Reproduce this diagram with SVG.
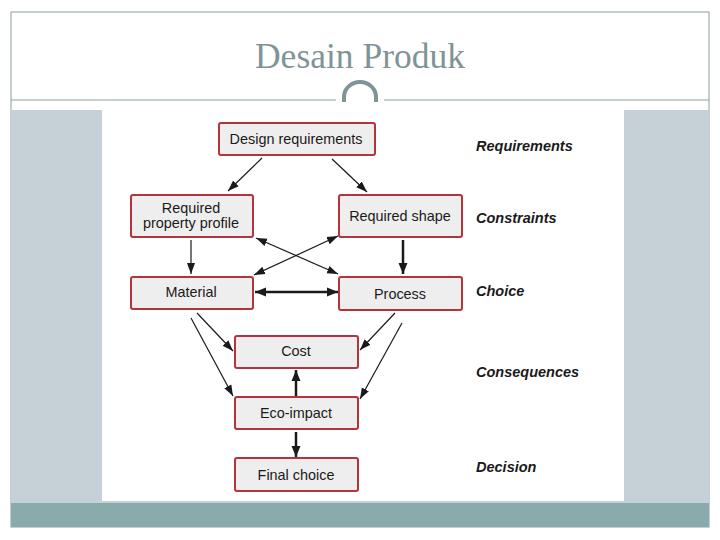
<svg xmlns="http://www.w3.org/2000/svg" width="720" height="540" viewBox="0 0 720 540">
<style>
.node rect{fill:#efeeee;stroke:#b2353b;stroke-width:2}
.node text{font-family:"Liberation Sans",Arial,sans-serif;font-size:14.4px;fill:#1a1a1a;text-anchor:middle}
.side{font-family:"Liberation Sans",Arial,sans-serif;font-size:14.5px;font-style:italic;font-weight:bold;fill:#1a1a1a}
.c{stroke:#1a1a1a;stroke-width:1.2;fill:none}
.t{stroke:#1a1a1a;stroke-width:2.5;fill:none}
</style>
<defs>
<marker id="ah" markerUnits="userSpaceOnUse" markerWidth="12" markerHeight="10" refX="11" refY="5" orient="auto-start-reverse">
<path d="M0,1 L11,5 L0,9 Z" fill="#1a1a1a"/>
</marker>
<marker id="ahb" markerUnits="userSpaceOnUse" markerWidth="12" markerHeight="10" refX="11" refY="5" orient="auto-start-reverse">
<path d="M0,0.5 L11,5 L0,9.5 Z" fill="#1a1a1a"/>
</marker>
</defs>
<rect x="0" y="0" width="720" height="540" fill="#fff"/>
<g id="frame">
<rect x="11" y="12" width="698" height="515" fill="none" stroke="#8a9ea0" stroke-width="1"/>
<rect x="11" y="110" width="698" height="393" fill="#c5d1d6"/>
<rect x="102" y="110" width="522" height="391" fill="#fff"/>
<rect x="11" y="503" width="698" height="24" fill="#8aabab"/>
<line x1="11" y1="100" x2="336" y2="100" stroke="#8a9ea0" stroke-width="1"/>
<line x1="384" y1="100" x2="709" y2="100" stroke="#8a9ea0" stroke-width="1"/>
<path d="M344,102 L344,97 A16,15 0 0 1 376,97 L376,102" fill="none" stroke="#7f9496" stroke-width="4"/>
<text x="360" y="68" font-family="Liberation Serif,'Times New Roman',serif" font-size="35.5" fill="#7f9496" text-anchor="middle">Desain Produk</text>
</g>
<g id="connectors">
<line class="c" x1="262" y1="158" x2="228" y2="191" marker-end="url(#ah)"/>
<line class="c" x1="332" y1="159" x2="367" y2="192" marker-end="url(#ah)"/>
<line class="c" x1="191" y1="240" x2="191" y2="274" stroke-width="1.6" marker-end="url(#ah)"/>
<line class="t" x1="403" y1="240" x2="403" y2="274" marker-end="url(#ahb)"/>
<line class="c" x1="256" y1="238" x2="338" y2="274" marker-start="url(#ah)" marker-end="url(#ah)"/>
<line class="c" x1="338" y1="236" x2="254" y2="275" marker-start="url(#ah)" marker-end="url(#ah)"/>
<line class="t" x1="255" y1="292" x2="338" y2="292" marker-start="url(#ahb)" marker-end="url(#ahb)"/>
<line class="c" x1="197" y1="313" x2="233" y2="351" marker-end="url(#ah)"/>
<line class="c" x1="191" y1="318" x2="233" y2="396" marker-end="url(#ah)"/>
<line class="c" x1="395" y1="313" x2="360" y2="350" marker-end="url(#ah)"/>
<line class="c" x1="402" y1="323" x2="360" y2="399" marker-end="url(#ah)"/>
<line class="t" x1="296" y1="396" x2="296" y2="370" marker-end="url(#ahb)"/>
<line class="t" x1="296" y1="432" x2="296" y2="457" marker-end="url(#ahb)"/>
</g>
<g id="n-design" class="node"><rect x="219" y="123" width="156" height="32" rx="2"/><text x="296" y="144">Design requirements</text></g>
<g id="n-profile" class="node"><rect x="131" y="195" width="122" height="42" rx="2"/><text x="191" y="213">Required</text><text x="191" y="228">property profile</text></g>
<g id="n-shape" class="node"><rect x="339" y="195" width="123" height="42" rx="2"/><text x="400" y="221">Required shape</text></g>
<g id="n-material" class="node"><rect x="131" y="277" width="122" height="32" rx="2"/><text x="191" y="297">Material</text></g>
<g id="n-process" class="node"><rect x="339" y="277" width="123" height="33" rx="2"/><text x="400" y="299">Process</text></g>
<g id="n-cost" class="node"><rect x="235" y="336" width="123" height="32" rx="2"/><text x="296" y="356">Cost</text></g>
<g id="n-eco" class="node"><rect x="235" y="397" width="123" height="32" rx="2"/><text x="296" y="418">Eco-impact</text></g>
<g id="n-final" class="node"><rect x="235" y="458" width="123" height="33" rx="2"/><text x="296" y="480">Final choice</text></g>
<g id="side-labels">
<text class="side" x="476" y="151">Requirements</text>
<text class="side" x="476" y="223">Constraints</text>
<text class="side" x="476" y="296">Choice</text>
<text class="side" x="476" y="377">Consequences</text>
<text class="side" x="476" y="472">Decision</text>
</g>
</svg>
